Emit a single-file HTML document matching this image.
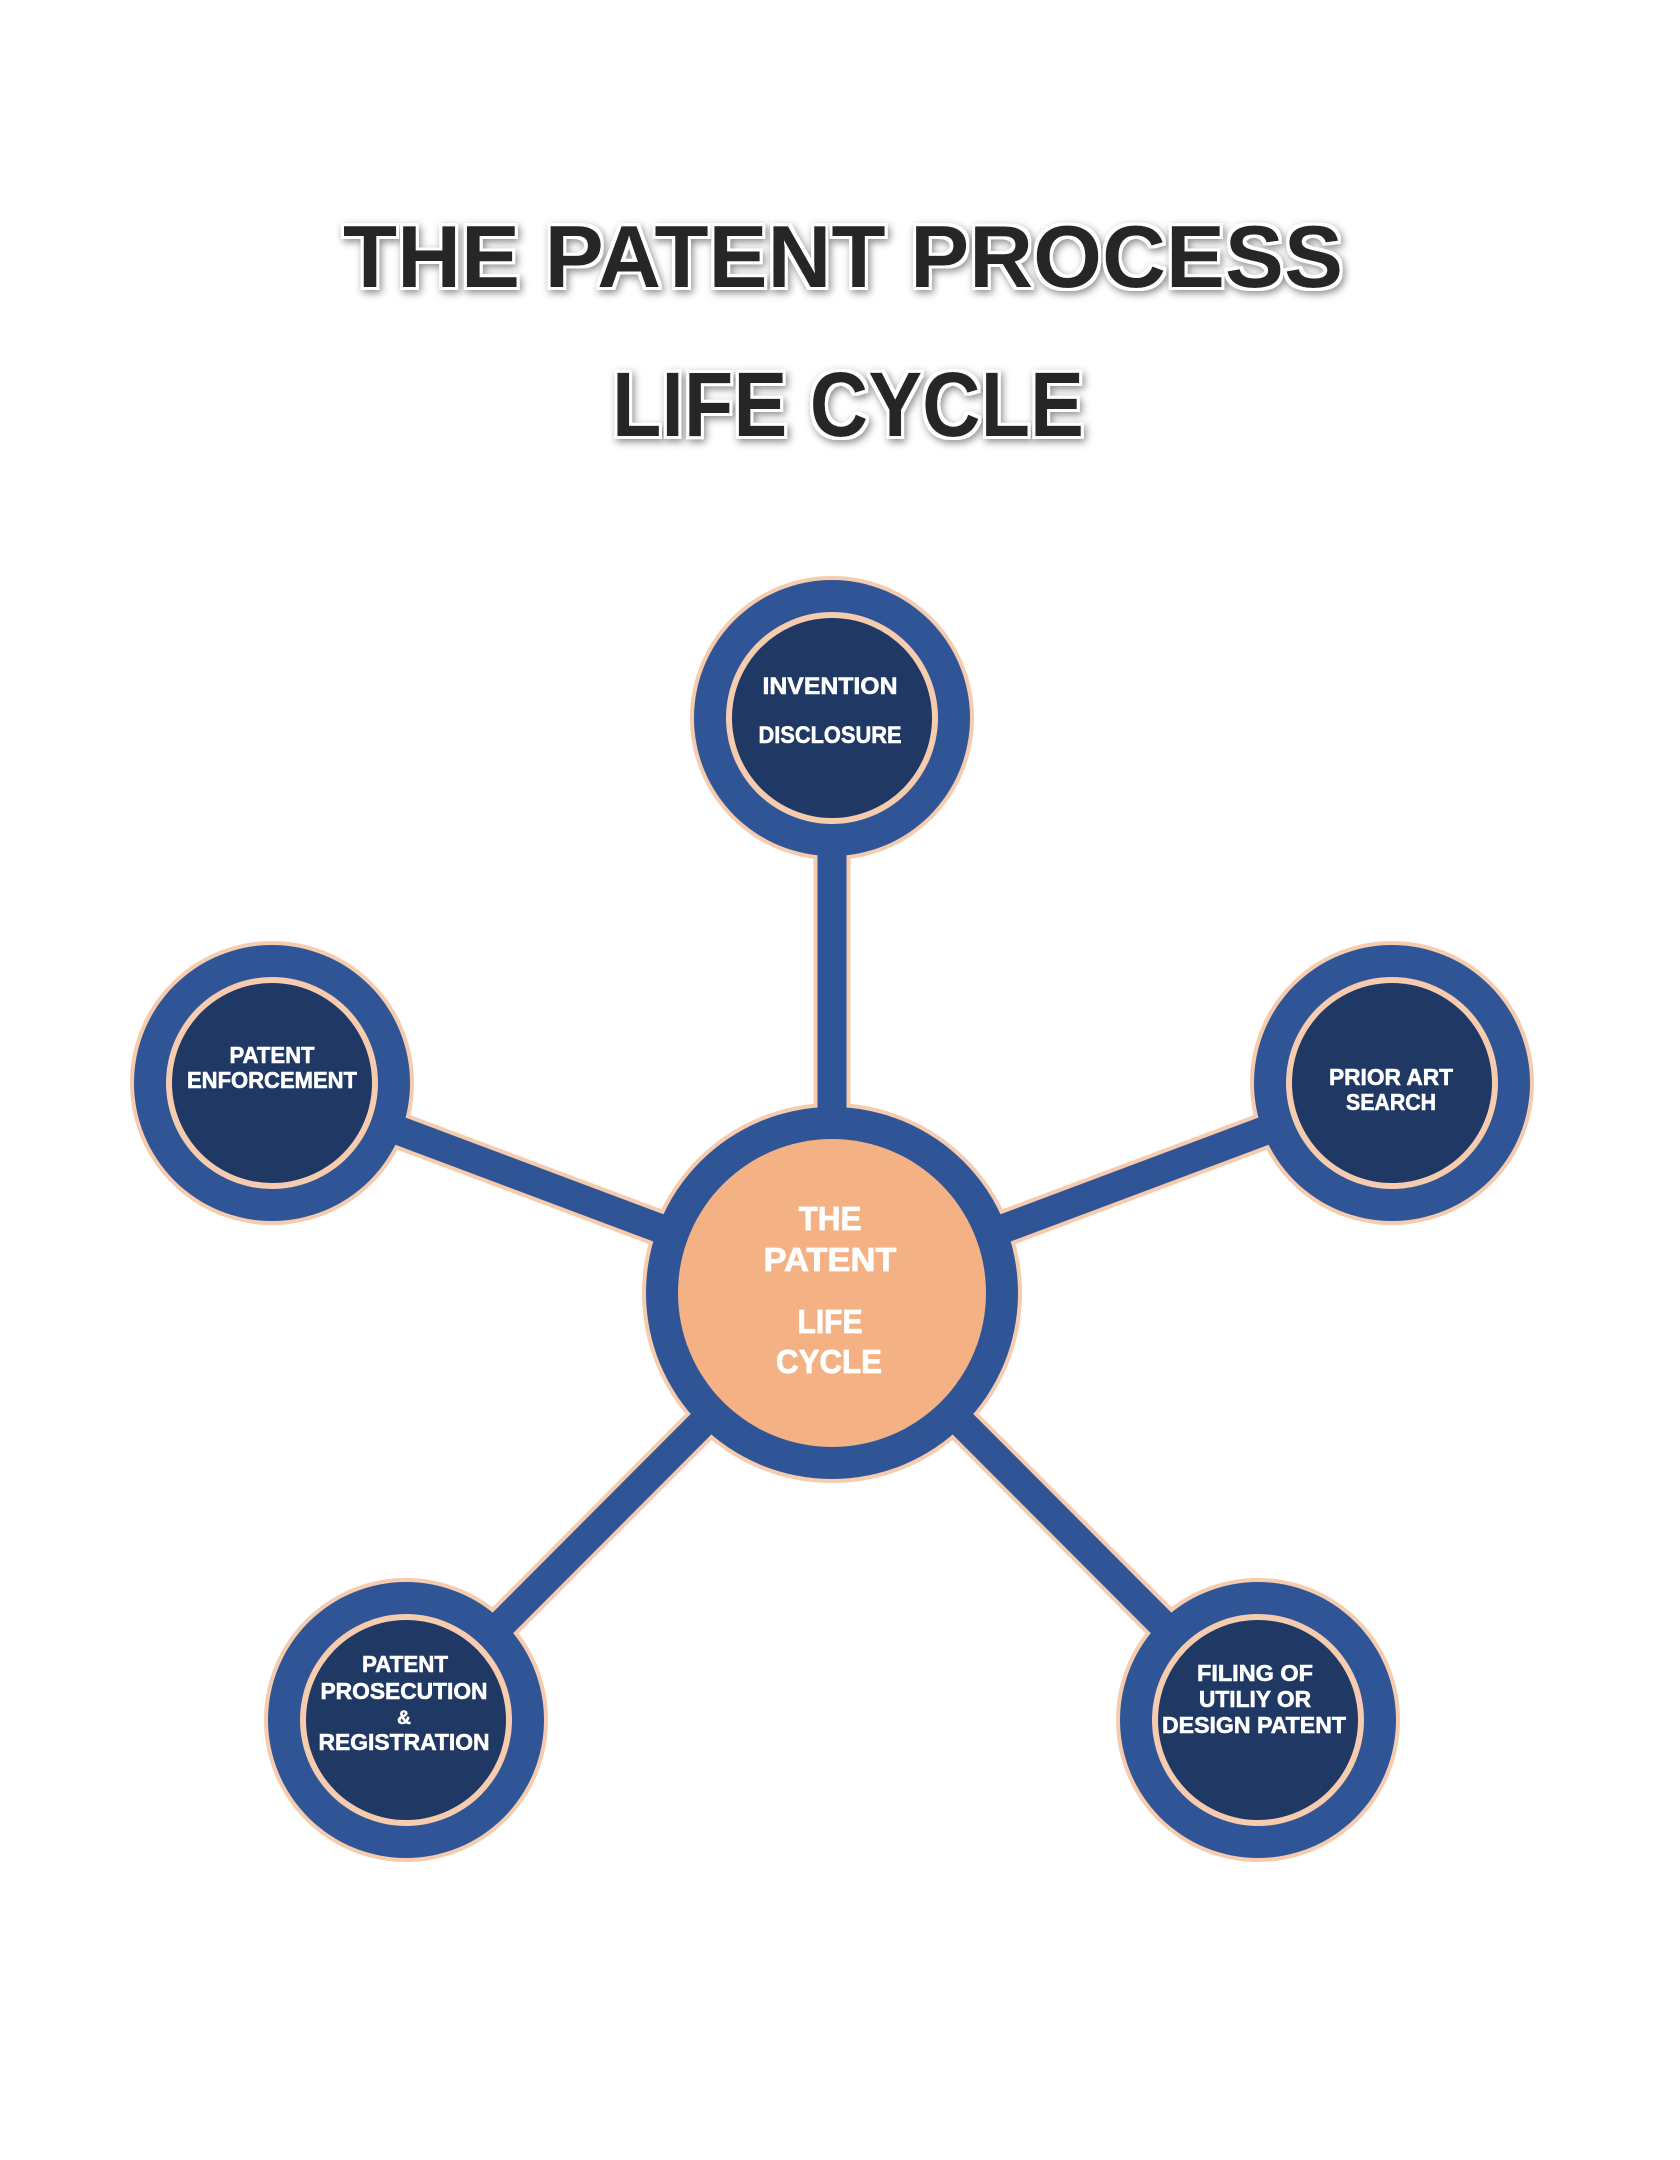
<!DOCTYPE html>
<html>
<head>
<meta charset="utf-8">
<style>
  html, body { margin: 0; padding: 0; background: #ffffff; }
  svg { display: block; }
  .t { font-family: "Liberation Sans", "DejaVu Sans", sans-serif; font-weight: bold; }
</style>
</head>
<body>
<svg width="1680" height="2160" viewBox="0 0 1680 2160" xmlns="http://www.w3.org/2000/svg">
  <defs>
    <filter id="ts" x="-10%" y="-40%" width="120%" height="180%">
      <feMorphology in="SourceAlpha" operator="dilate" radius="3" result="d"/>
      <feGaussianBlur in="d" stdDeviation="4" result="b"/>
      <feOffset in="b" dx="2" dy="3" result="o"/>
      <feFlood flood-color="#000000" flood-opacity="0.45"/>
      <feComposite in2="o" operator="in" result="shadow"/>
      <feFlood flood-color="#ffffff"/>
      <feComposite in2="d" operator="in" result="white"/>
      <feMerge>
        <feMergeNode in="shadow"/>
        <feMergeNode in="white"/>
        <feMergeNode in="SourceGraphic"/>
      </feMerge>
    </filter>
  </defs>

  <rect width="1680" height="2160" fill="#ffffff"/>

  <!-- Title -->
  <g class="t" fill="#262626" filter="url(#ts)" text-anchor="middle">
    <text x="843" y="287" font-size="88" textLength="1000" lengthAdjust="spacingAndGlyphs">THE PATENT PROCESS</text>
    <text x="848" y="436" font-size="92" textLength="472" lengthAdjust="spacingAndGlyphs">LIFE CYCLE</text>
  </g>

  <!-- Connectors: beige border layer -->
  <g stroke="#F6CBAE" stroke-width="37" stroke-linecap="butt">
    <line x1="832" y1="1293" x2="832" y2="718"/>
    <line x1="832" y1="1293" x2="272" y2="1083"/>
    <line x1="832" y1="1293" x2="1392" y2="1083"/>
    <line x1="832" y1="1293" x2="406" y2="1720"/>
    <line x1="832" y1="1293" x2="1258" y2="1720"/>
  </g>

  <!-- Circle beige outer borders -->
  <g fill="#F6CBAE">
    <circle cx="832" cy="1293" r="190"/>
    <circle cx="832" cy="718" r="142"/>
    <circle cx="272" cy="1083" r="142"/>
    <circle cx="1392" cy="1083" r="142"/>
    <circle cx="406" cy="1720" r="142"/>
    <circle cx="1258" cy="1720" r="142"/>
  </g>

  <!-- Connectors: blue layer -->
  <g stroke="#2F5597" stroke-width="29" stroke-linecap="butt">
    <line x1="832" y1="1293" x2="832" y2="718"/>
    <line x1="832" y1="1293" x2="272" y2="1083"/>
    <line x1="832" y1="1293" x2="1392" y2="1083"/>
    <line x1="832" y1="1293" x2="406" y2="1720"/>
    <line x1="832" y1="1293" x2="1258" y2="1720"/>
  </g>

  <!-- Blue rings -->
  <g fill="#2F5597">
    <circle cx="832" cy="1293" r="186"/>
    <circle cx="832" cy="718" r="138"/>
    <circle cx="272" cy="1083" r="138"/>
    <circle cx="1392" cy="1083" r="138"/>
    <circle cx="406" cy="1720" r="138"/>
    <circle cx="1258" cy="1720" r="138"/>
  </g>

  <!-- Inner beige rings -->
  <g fill="#F6CBAE">
    <circle cx="832" cy="718" r="106"/>
    <circle cx="272" cy="1083" r="106"/>
    <circle cx="1392" cy="1083" r="106"/>
    <circle cx="406" cy="1720" r="106"/>
    <circle cx="1258" cy="1720" r="106"/>
  </g>

  <!-- Inner navy discs -->
  <g fill="#203864">
    <circle cx="832" cy="718" r="100"/>
    <circle cx="272" cy="1083" r="100"/>
    <circle cx="1392" cy="1083" r="100"/>
    <circle cx="406" cy="1720" r="100"/>
    <circle cx="1258" cy="1720" r="100"/>
  </g>

  <!-- Central peach disc -->
  <circle cx="832" cy="1293" r="154" fill="#F4B183"/>

  <!-- Central text -->
  <g class="t" fill="#ffffff" stroke="#ffffff" stroke-width="0.8" text-anchor="middle" font-size="33">
    <text x="830" y="1230" textLength="63" lengthAdjust="spacingAndGlyphs">THE</text>
    <text x="830" y="1271" textLength="133" lengthAdjust="spacingAndGlyphs">PATENT</text>
    <text x="830" y="1333" textLength="65" lengthAdjust="spacingAndGlyphs">LIFE</text>
    <text x="829" y="1373" textLength="106" lengthAdjust="spacingAndGlyphs">CYCLE</text>
  </g>

  <!-- Node texts -->
  <g class="t" fill="#ffffff" stroke="#ffffff" stroke-width="0.6" text-anchor="middle" font-size="23">
    <!-- top -->
    <text x="830" y="694" font-size="24" textLength="135" lengthAdjust="spacingAndGlyphs">INVENTION</text>
    <text x="830" y="743" font-size="24" textLength="143" lengthAdjust="spacingAndGlyphs">DISCLOSURE</text>

    <!-- left -->
    <text x="272" y="1063" textLength="85" lengthAdjust="spacingAndGlyphs">PATENT</text>
    <text x="272" y="1088" textLength="170" lengthAdjust="spacingAndGlyphs">ENFORCEMENT</text>

    <!-- right -->
    <text x="1391" y="1085" textLength="124" lengthAdjust="spacingAndGlyphs">PRIOR ART</text>
    <text x="1391" y="1110" textLength="90" lengthAdjust="spacingAndGlyphs">SEARCH</text>

    <!-- bottom-left -->
    <text x="405" y="1672" textLength="86" lengthAdjust="spacingAndGlyphs">PATENT</text>
    <text x="404" y="1699" textLength="167" lengthAdjust="spacingAndGlyphs">PROSECUTION</text>
    <text x="404" y="1724" font-size="19">&amp;</text>
    <text x="404" y="1750" textLength="171" lengthAdjust="spacingAndGlyphs">REGISTRATION</text>

    <!-- bottom-right -->
    <text x="1255" y="1681" textLength="116" lengthAdjust="spacingAndGlyphs">FILING OF</text>
    <text x="1255" y="1707" textLength="112" lengthAdjust="spacingAndGlyphs">UTILIY OR</text>
    <text x="1254" y="1733" textLength="184" lengthAdjust="spacingAndGlyphs">DESIGN PATENT</text>
  </g>
</svg>
</body>
</html>
